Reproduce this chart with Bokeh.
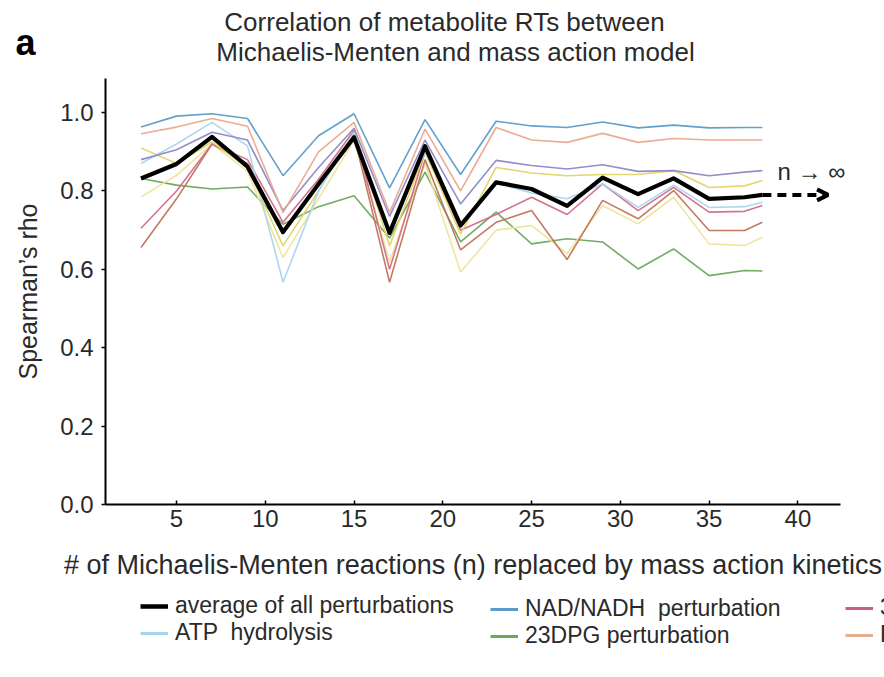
from bokeh.plotting import figure
from bokeh.models import (Range1d, Label, Legend, LegendItem, Arrow, OpenHead,
                          FixedTicker, NumeralTickFormatter, ColumnDataSource)
from bokeh.embed import file_html
from bokeh.resources import INLINE

# ---------------- data ----------------
n_reactions = [3, 5, 7, 9, 11, 13, 15, 17, 19, 21, 23, 25, 27, 29, 31, 33, 35, 37, 38]

avg_all = [0.832, 0.869, 0.938, 0.862, 0.695, 0.818, 0.937, 0.693, 0.914, 0.712,
           0.822, 0.805, 0.762, 0.834, 0.792, 0.832, 0.780, 0.784, 0.790]
nad_nadh = [0.963, 0.991, 0.997, 0.985, 0.839, 0.941, 0.997, 0.808, 0.982, 0.842,
            0.978, 0.966, 0.962, 0.976, 0.961, 0.968, 0.961, 0.962, 0.962]
p_series = [0.946, 0.963, 0.985, 0.965, 0.745, 0.900, 0.975, 0.745, 0.958, 0.800,
            0.962, 0.930, 0.924, 0.947, 0.924, 0.934, 0.930, 0.930, 0.930]
purple_series = [0.880, 0.905, 0.950, 0.930, 0.750, 0.860, 0.960, 0.735, 0.930, 0.767,
                 0.878, 0.865, 0.856, 0.867, 0.850, 0.852, 0.839, 0.848, 0.852]
atp_hydrolysis = [0.870, 0.920, 0.975, 0.915, 0.567, 0.800, 0.950, 0.700, 0.900, 0.720,
                  0.820, 0.795, 0.780, 0.818, 0.758, 0.815, 0.758, 0.760, 0.771]
yellow_series = [0.910, 0.870, 0.925, 0.860, 0.660, 0.800, 0.950, 0.660, 0.900, 0.690,
                 0.860, 0.846, 0.839, 0.842, 0.842, 0.852, 0.809, 0.813, 0.827]
three_series = [0.705, 0.800, 0.920, 0.880, 0.720, 0.830, 0.955, 0.600, 0.900, 0.700,
                0.740, 0.784, 0.740, 0.818, 0.750, 0.809, 0.746, 0.748, 0.763]
brown_series = [0.656, 0.780, 0.920, 0.870, 0.700, 0.820, 0.940, 0.567, 0.880, 0.650,
                0.720, 0.750, 0.625, 0.776, 0.729, 0.801, 0.699, 0.699, 0.720]
lightyellow_series = [0.785, 0.840, 0.920, 0.850, 0.630, 0.780, 0.930, 0.620, 0.870, 0.593,
                      0.700, 0.712, 0.640, 0.763, 0.716, 0.784, 0.665, 0.661, 0.682]
dpg23 = [0.832, 0.815, 0.805, 0.810, 0.715, 0.760, 0.788, 0.680, 0.848, 0.670,
         0.746, 0.665, 0.678, 0.670, 0.601, 0.652, 0.584, 0.597, 0.596]

x_ticks = [5, 10, 15, 20, 25, 30, 35, 40]
y_ticks = [0.0, 0.2, 0.4, 0.6, 0.8, 1.0]

legend_labels = ["average of all perturbations", "ATP  hydrolysis",
                 "NAD/NADH  perturbation", "23DPG perturbation",
                 "3PG perturbation", "PYR perturbation"]

title_lines = ["Correlation of metabolite RTs between",
               "Michaelis-Menten and mass action model"]
x_label = "# of Michaelis-Menten reactions (n) replaced by mass action kinetics"
y_label = "Spearman\u2019s rho"
limit_text = "n \u2192 \u221e"
limit_arrow_end = 41.7

# ---------------- geometry ----------------
W, H = 884, 677
AX_L, AX_R, AX_T, AX_B = 105, 840, 78, 504      # pixel box of the axes
X0, X1 = 1.0, 42.4                              # axis extents (data)
Y0, Y1 = 0.0, 1.087
SX = (AX_R - AX_L) / (X1 - X0)
SY = (AX_B - AX_T) / (Y1 - Y0)

def dx(px):
    return X0 + (px - AX_L) / SX

def dy(py):
    return Y0 + (AX_B - py) / SY

FONT = "Liberation Sans"
TXT = "#2a2a2a"

p = figure(width=W, height=H, output_backend="svg", toolbar_location=None,
           x_range=Range1d(dx(0), dx(W)), y_range=Range1d(dy(H), dy(0)),
           min_border=0, min_border_left=0, min_border_right=0,
           min_border_top=0, min_border_bottom=0)
p.outline_line_color = None
p.xgrid.visible = False
p.ygrid.visible = False
p.background_fill_color = "white"
p.border_fill_color = "white"

series = [
    (dpg23, "#6aa85a"),
    (lightyellow_series, "#efe49a"),
    (brown_series, "#c0735a"),
    (three_series, "#d36b88"),
    (yellow_series, "#e3d465"),
    (atp_hydrolysis, "#a6d6ef"),
    (purple_series, "#8f87c6"),
    (p_series, "#eba88c"),
    (nad_nadh, "#5b9bc8"),
]
for vals, col in series:
    p.line(n_reactions, vals, line_color=col, line_width=1.6, line_alpha=0.95)

p.line(n_reactions, avg_all, line_color="black", line_width=4.2, line_join="round")

# arrow towards n -> infinity
p.add_layout(Arrow(x_start=n_reactions[-1], y_start=avg_all[-1],
                   x_end=limit_arrow_end, y_end=avg_all[-1],
                   line_color="black", line_width=4, line_dash="9 6",
                   end=OpenHead(size=11, line_width=4, line_color="black")))
p.add_layout(Label(x=dx(777), y=dy(171), text=limit_text, text_font=FONT,
                   text_font_size="24px", text_color=TXT, text_baseline="middle"))

# axes, pinned to the axis box
p.xaxis.fixed_location = Y0
p.yaxis.fixed_location = X0
p.xaxis.bounds = (X0, X1)
p.yaxis.bounds = (Y0, Y1)
p.xaxis.ticker = FixedTicker(ticks=x_ticks)
p.yaxis.ticker = FixedTicker(ticks=y_ticks)
p.yaxis.formatter = NumeralTickFormatter(format="0.0")
for ax in (p.xaxis[0], p.yaxis[0]):
    ax.axis_line_width = 2
    ax.axis_line_color = "black"
    ax.major_tick_line_color = "black"
    ax.major_tick_line_width = 1.5
    ax.minor_tick_line_color = None
    ax.major_label_text_font = FONT
    ax.major_label_text_font_size = "24px"
    ax.major_label_text_color = TXT
    ax.axis_label_text_font = FONT
    ax.axis_label_text_font_style = "normal"
    ax.axis_label_text_color = TXT
p.xaxis.axis_label_text_font_size = "27px"
p.yaxis.axis_label_text_font_size = "25px"
p.xaxis.major_tick_in = 4
p.xaxis.major_tick_out = 0
p.yaxis.major_tick_in = 0
p.yaxis.major_tick_out = 4
p.xaxis.major_label_standoff = 5
p.yaxis.major_label_standoff = 8
p.xaxis.axis_label = x_label
p.yaxis.axis_label = y_label
p.xaxis.axis_label_standoff = 20
p.yaxis.axis_label_standoff = 15

# titles
p.add_layout(Label(x=dx(444), y=dy(21), text=title_lines[0], text_font=FONT,
                   text_font_size="26px", text_color=TXT, text_align="center",
                   text_baseline="middle"))
p.add_layout(Label(x=dx(455), y=dy(51), text=title_lines[1], text_font=FONT,
                   text_font_size="26px", text_color=TXT, text_align="center",
                   text_baseline="middle"))
p.add_layout(Label(x=dx(15), y=dy(42), text="a", text_font=FONT,
                   text_font_size="36px", text_font_style="bold",
                   text_color="black", text_baseline="middle"))

# legend (proxy renderers: a single undefined point, nothing drawn in the plot)
nan = float("nan")
proxy_src = ColumnDataSource(data=dict(x=[nan], y=[nan]))
leg_cols = ["black", "#a6d6ef", "#5b9bc8", "#6aa85a", "#c9607a", "#e2b08e"]
leg_w = [4.5, 3, 3, 3, 3, 3]
proxies = [p.line("x", "y", source=proxy_src, line_color=c, line_width=w)
           for c, w in zip(leg_cols, leg_w)]

def make_legend(idx, left_px, bottom_px):
    lg = Legend(items=[LegendItem(label=legend_labels[i], renderers=[proxies[i]]) for i in idx],
                location=(left_px, H - bottom_px),
                orientation="vertical", padding=0, margin=0, spacing=0,
                glyph_width=28, glyph_height=18, label_height=18, label_standoff=7,
                label_text_font=FONT, label_text_font_size="23px",
                label_text_color=TXT, background_fill_alpha=0,
                border_line_color=None)
    p.add_layout(lg, "center")

make_legend([0, 1], 140, 646)
make_legend([2, 3], 490, 649)
make_legend([4, 5], 845, 648)

open("out.html", "w").write(file_html(p, INLINE))
